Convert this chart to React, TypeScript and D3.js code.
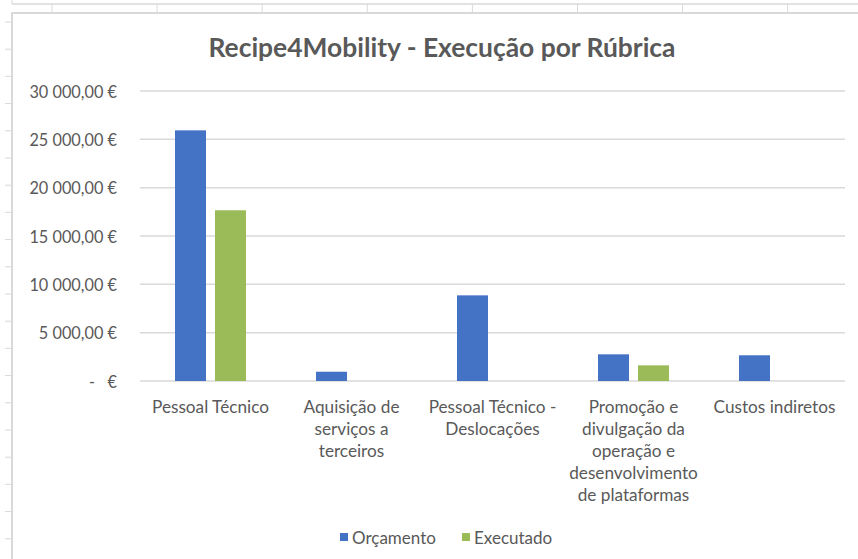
import React, { useRef, useEffect } from "react";
import * as d3 from "d3";

const categories = [
  ["Pessoal Técnico"],
  ["Aquisição de", "serviços a", "terceiros"],
  ["Pessoal Técnico -", "Deslocações"],
  ["Promoção e", "divulgação da", "operação e", "desenvolvimento", "de plataformas"],
  ["Custos indiretos"],
];
const seriesNames = ["Orçamento", "Executado"];
const orcamento = [25930, 960, 8860, 2760, 2660];
const executado = [17660, 0, 0, 1620, 0];
const yTicks = [0, 5000, 10000, 15000, 20000, 25000, 30000];
const colors = ["#4472C4", "#9BBB59"];

const FONT = "Lato, 'Open Sans', sans-serif";
const TEXT = "#595959";
const GRID = "#d9d9d9";

function fmtEuro(v: number) {
  if (v === 0) return "-   €";
  const s = d3.format(",.2f")(v).replace(/,/g, " ").replace(/\.(\d\d)$/, ",$1");
  return s + " €";
}

export default function App() {
  const ref = useRef<SVGSVGElement>(null);

  useEffect(() => {
    const svg = d3.select(ref.current);
    svg.selectAll("*").remove();
    const width = 858;
    const height = 559;

    svg.append("rect").attr("width", width).attr("height", height).attr("fill", "#fff");

    // spreadsheet background bits around the chart object
    const bg = svg.append("g").attr("stroke", GRID).attr("fill", "none");
    bg.append("line").attr("x1", 12).attr("x2", width).attr("y1", 4).attr("y2", 4).attr("stroke-width", 1.5);
    bg.append("line").attr("x1", 12).attr("x2", 12).attr("y1", 0).attr("y2", 4);
    bg.selectAll("line.col")
      .data(d3.range(52, width, 105.1))
      .join("line")
      .attr("class", "col")
      .attr("x1", (d) => d)
      .attr("x2", (d) => d)
      .attr("y1", 4)
      .attr("y2", 13);
    bg.selectAll("line.row")
      .data(d3.range(22, height, 27.2))
      .join("line")
      .attr("class", "row")
      .attr("x1", 5)
      .attr("x2", 11)
      .attr("y1", (d) => d)
      .attr("y2", (d) => d);
    // chart frame
    bg.append("path")
      .attr("d", `M12,${height} V13 H${width}`)
      .attr("stroke-width", 2);

    const plot = { left: 140, right: 845, top: 91, bottom: 381 };

    const y = d3.scaleLinear().domain([0, 30000]).range([plot.bottom, plot.top]);
    const x0 = d3
      .scaleBand<number>()
      .domain(d3.range(categories.length))
      .range([plot.left, plot.right])
      .padding(0);
    const x1 = d3
      .scaleBand<number>()
      .domain([0, 1])
      .range([0, x0.bandwidth()])
      .paddingInner(0.225)
      .paddingOuter(0.875);

    // gridlines
    svg.append("g")
      .selectAll("line")
      .data(yTicks)
      .join("line")
      .attr("x1", plot.left)
      .attr("x2", plot.right)
      .attr("y1", (d) => y(d))
      .attr("y2", (d) => y(d))
      .attr("stroke", GRID)
      .attr("stroke-width", 1.5);

    // y tick labels
    svg.append("g")
      .selectAll("text")
      .data(yTicks)
      .join("text")
      .attr("x", 117)
      .attr("y", (d) => y(d))
      .attr("text-anchor", "end")
      .attr("dominant-baseline", "central")
      .style("white-space", "pre")
      .style("font-family", FONT)
      .style("font-size", "16.3px")
      .attr("fill", TEXT)
      .text((d) => fmtEuro(d));

    // bars
    const values = [orcamento, executado];
    values.forEach((vals, si) => {
      svg.append("g")
        .selectAll("rect")
        .data(vals)
        .join("rect")
        .attr("x", (_, i) => x0(i)! + x1(si)!)
        .attr("y", (d) => y(d))
        .attr("width", x1.bandwidth())
        .attr("height", (d) => y(0) - y(d))
        .attr("fill", colors[si]);
    });

    // category labels
    const cat = svg.append("g")
      .selectAll("text")
      .data(categories)
      .join("text")
      .attr("text-anchor", "middle")
      .style("font-family", FONT)
      .style("font-size", "17.2px")
      .attr("fill", TEXT);
    cat.each(function (lines, i) {
      d3.select(this)
        .selectAll("tspan")
        .data(lines)
        .join("tspan")
        .attr("x", x0(i)! + x0.bandwidth() / 2)
        .attr("y", (_, j) => 413 + j * 22)
        .text((d) => d);
    });

    // title
    svg.append("text")
      .attr("x", 442)
      .attr("y", 57)
      .attr("text-anchor", "middle")
      .style("font-family", FONT)
      .style("font-size", "26.4px")
      .style("font-weight", "bold")
      .attr("fill", TEXT)
      .text("Recipe4Mobility - Execução por Rúbrica");

    // legend
    const legendX = [340, 462];
    const lg = svg.append("g")
      .selectAll("g")
      .data(seriesNames)
      .join("g")
      .attr("transform", (_, i) => `translate(${legendX[i]},537)`);
    lg.append("rect")
      .attr("x", 0)
      .attr("y", -4)
      .attr("width", 8)
      .attr("height", 8)
      .attr("fill", (_, i) => colors[i]);
    lg.append("text")
      .attr("x", 12)
      .attr("y", 0)
      .attr("dominant-baseline", "central")
      .style("font-family", FONT)
      .style("font-size", "17px")
      .attr("fill", TEXT)
      .text((d) => d);
  }, []);

  return (
    <svg
      ref={ref}
      width={858}
      height={559}
      style={{ position: "absolute", left: 0, top: 0 }}
    ></svg>
  );
}
